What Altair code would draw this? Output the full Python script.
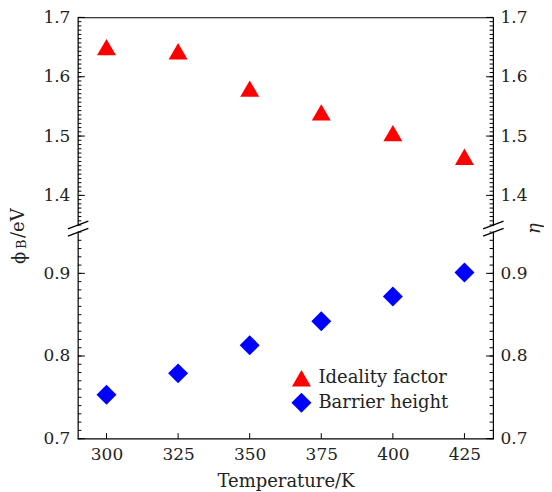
import altair as alt
import pandas as pd

temperature = [300, 325, 350, 375, 400, 425]
ideality_factor = [1.650, 1.643, 1.580, 1.540, 1.505, 1.465]
barrier_height = [0.753, 0.779, 0.813, 0.842, 0.872, 0.901]
series = ["Ideality factor", "Barrier height"]
x_ticks = [300, 325, 350, 375, 400, 425]
y_major = [0.7, 0.8, 0.9, 1.4, 1.5, 1.6, 1.7]
lower_minor = [round(0.70 + 0.01 * i, 4) for i in range(26)]
upper_minor = [round(1.35 + i / 140, 4) for i in range(50)]
# broken axis: 0.70-0.95 below the break, 1.35-1.70 above it
y_break_domain = [0.70, 0.95, 1.35, 1.70]

FONT = "DejaVu Serif"
W, H = 416, 422
Y_RANGE = [H, 215, 208, 0]

df = pd.DataFrame({
    "T": temperature * 2,
    "v": ideality_factor + barrier_height,
    "s": [series[0]] * len(temperature) + [series[1]] * len(temperature),
})
minor_df = pd.DataFrame({"v": lower_minor + upper_minor})
major_df = pd.DataFrame({"v": y_major})
xt_df = pd.DataFrame({"t": x_ticks})

xscale = alt.Scale(domain=[290, 435], nice=False, zero=False)
yscale = alt.Scale(domain=y_break_domain, range=Y_RANGE, nice=False, zero=False)

legend = alt.Legend(orient="none", legendX=214, legendY=352, title=None,
                    labelFont=FONT, labelFontSize=18, labelColor="#222",
                    symbolSize=340, rowPadding=5, padding=0, labelOffset=7,
                    symbolStrokeWidth=0)
color = alt.Color("s:N", scale=alt.Scale(domain=series, range=["#ff0000", "#0000ff"]), legend=legend)
shape = alt.Shape("s:N", scale=alt.Scale(domain=series, range=["triangle-up", "diamond"]), legend=legend)
size = alt.Size("s:N", scale=alt.Scale(domain=series, range=[361, 400]), legend=None)

pts = alt.Chart(df).mark_point(filled=True, opacity=1, strokeWidth=0).encode(
    x=alt.X("T:Q", scale=xscale,
            axis=alt.Axis(orient="bottom", values=x_ticks, labels=True, ticks=False, domain=False,
                          title="Temperature/K", format="d", labelPadding=8, titlePadding=10, grid=False)),
    y=alt.Y("v:Q", scale=yscale,
            axis=alt.Axis(orient="left", values=y_major, ticks=False, domain=False, labels=True,
                          title=None, format=".1f", labelPadding=8, grid=False)),
    color=color, shape=shape, size=size,
)

rlab = alt.Chart(df).mark_point(opacity=0).encode(
    x=alt.X("T:Q", scale=xscale, axis=None),
    y=alt.Y("v:Q", scale=yscale,
            axis=alt.Axis(orient="right", values=y_major, ticks=False, domain=False, labels=True,
                          title="η", titleY=211, titleAngle=270, titleFontSize=18, titlePadding=16,
                          titleFontStyle="italic", format=".1f", labelPadding=7, grid=False)),
)


def yticks(data, x0, x1):
    return alt.Chart(data).mark_rule(color="black", strokeWidth=1).encode(
        y=alt.Y("v:Q", scale=yscale, axis=None),
        x=alt.value(x0), x2=alt.value(x1),
    )


layers = [
    pts, rlab,
    yticks(minor_df, 0, 3.5), yticks(major_df, 0, 7),
    yticks(minor_df, W - 3.5, W), yticks(major_df, W - 7, W),
    alt.Chart(xt_df).mark_rule(color="black", strokeWidth=1).encode(
        x=alt.X("t:Q", scale=xscale, axis=None), y=alt.value(H), y2=alt.value(H - 5.5)),
]

one = alt.Data(values=[{"k": 0}])
for x0 in (0, W):
    # gap in the frame line between the two slashes
    layers.append(
        alt.Chart(one).mark_rule(color="white", strokeWidth=4, clip=False).encode(
            x=alt.value(x0), y=alt.value(209), y2=alt.value(214.5))
    )
    for yc in (208, 215.3):
        layers.append(
            alt.Chart(one).mark_rule(color="black", strokeWidth=1.3, clip=False).encode(
                x=alt.value(x0 - 10), x2=alt.value(x0 + 10.5),
                y=alt.value(yc + 3.9), y2=alt.value(yc - 3.9))
        )

# left axis title  phi_B / eV, composed of text pieces
pieces = [("ϕ", 18, -58, 247), ("B", 13, -55.5, 232), ("/eV", 18, -59, 221)]
for txt, fs, xx, yy in pieces:
    layers.append(
        alt.Chart(one).mark_text(text=txt, angle=270, align="left", baseline="middle",
                                 font=FONT, fontSize=fs, color="#222", clip=False).encode(
            x=alt.value(xx), y=alt.value(yy))
    )

chart = alt.layer(*layers).resolve_axis(x="independent", y="independent").properties(
    width=W, height=H, padding={"left": 2, "top": 0, "right": 0, "bottom": 0}
).configure_view(stroke="black", strokeWidth=1.2).configure_axis(
    labelFont=FONT, labelFontSize=17, labelColor="#222",
    titleFont=FONT, titleFontSize=18, titleColor="#222", titleFontWeight="normal",
)

chart.save("out.html", embed_options={"renderer": "svg", "actions": False})
